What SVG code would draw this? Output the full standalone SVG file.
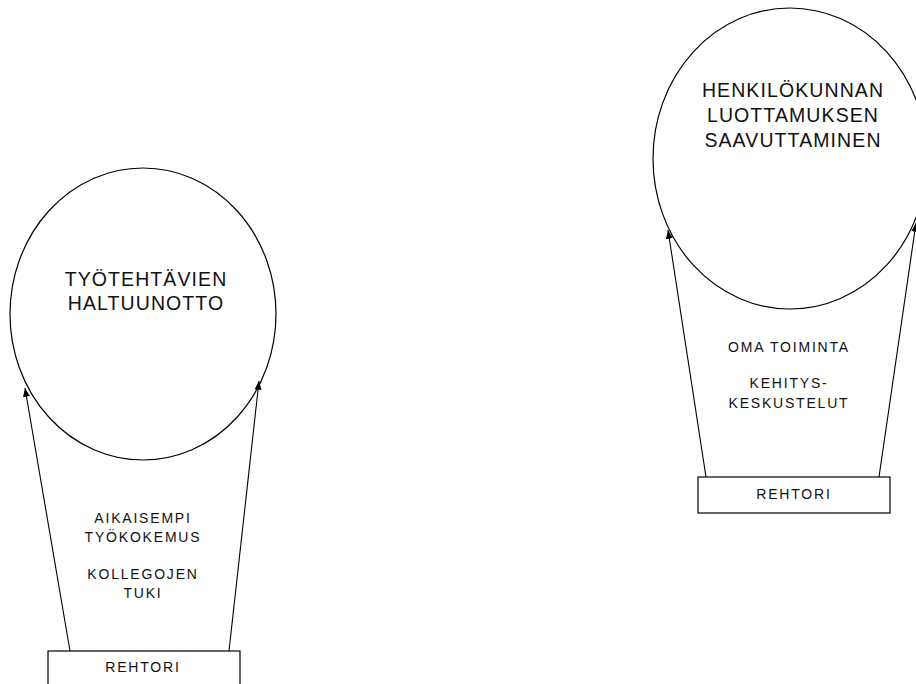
<svg xmlns="http://www.w3.org/2000/svg" width="916" height="684" viewBox="0 0 916 684">
  <style>
    .shape { fill: none; stroke: #000; stroke-width: 1.2; }
    .box { fill: #fff; stroke: #000; stroke-width: 1.2; }
    .link { stroke: #000; stroke-width: 1.1; fill: none; marker-end: url(#tip); }
    text { font-family: "Liberation Sans", Arial, sans-serif; fill: #111; text-anchor: middle; }
    .big { font-size: 19.5px; letter-spacing: 1.1px; }
    .small { font-size: 14px; letter-spacing: 1.8px; }
  </style>
  <defs>
    <marker id="tip" viewBox="0 0 10 8" refX="10" refY="4" markerWidth="9" markerHeight="7" markerUnits="userSpaceOnUse" orient="auto">
      <path d="M0,0 L10,4 L0,8 Z" fill="#000"/>
    </marker>
  </defs>
  <rect width="916" height="684" fill="#fff"/>

  <g id="goal-left">
    <ellipse class="shape" cx="143" cy="314" rx="133" ry="146"/>
    <text class="big" x="146" y="286">TYÖTEHTÄVIEN</text>
    <text class="big" x="146" y="310">HALTUUNOTTO</text>
  </g>

  <g id="goal-right">
    <ellipse class="shape" cx="790" cy="158.5" rx="137" ry="150.5"/>
    <text class="big" x="793" y="97">HENKILÖKUNNAN</text>
    <text class="big" x="793" y="122">LUOTTAMUKSEN</text>
    <text class="big" x="793" y="147">SAAVUTTAMINEN</text>
  </g>

  <g id="connectors">
    <line class="link" x1="70" y1="651" x2="25" y2="388"/>
    <line class="link" x1="229" y1="651" x2="259" y2="381"/>
    <line class="link" x1="706" y1="477" x2="668" y2="230"/>
    <line class="link" x1="879" y1="477" x2="916" y2="223"/>
  </g>

  <g id="means-left">
    <text class="small" x="143" y="523">AIKAISEMPI</text>
    <text class="small" x="143" y="542">TYÖKOKEMUS</text>
    <text class="small" x="143" y="579">KOLLEGOJEN</text>
    <text class="small" x="143" y="598">TUKI</text>
  </g>

  <g id="means-right">
    <text class="small" x="789" y="352">OMA TOIMINTA</text>
    <text class="small" x="789" y="388">KEHITYS-</text>
    <text class="small" x="789" y="408">KESKUSTELUT</text>
  </g>

  <g id="actor-left">
    <rect class="box" x="48" y="651" width="192" height="40"/>
    <text class="small" x="143" y="672">REHTORI</text>
  </g>

  <g id="actor-right">
    <rect class="box" x="698" y="477" width="192" height="36"/>
    <text class="small" x="794" y="499">REHTORI</text>
  </g>
</svg>
